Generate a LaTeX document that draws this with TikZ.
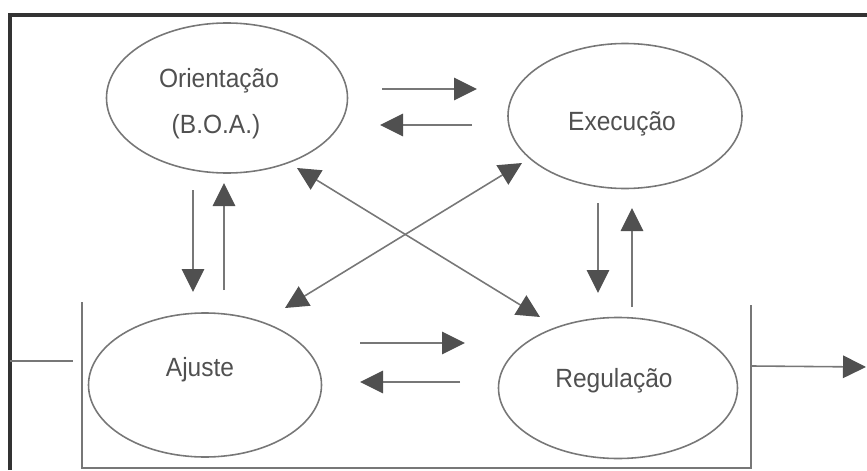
\documentclass[tikz,border=0pt]{standalone}
\usepackage{fontspec}
\setmainfont{Liberation Sans}
\usetikzlibrary{shapes.geometric}
\usetikzlibrary{arrows.meta}
\definecolor{linha}{HTML}{777777}
\definecolor{ponta}{HTML}{505050}
\definecolor{texto}{HTML}{505050}
\tikzset{
    etapa/.style = {ellipse, draw=linha, line width=0.9pt, inner sep=0pt},
    rotulo/.style = {anchor=base, inner sep=0pt, text=texto, xscale=0.93, font=\fontsize{15}{18}\selectfont},
    seta/.style = {-{Triangle[length=0.46cm,width=0.45cm,color=ponta]}, line width=0.9pt, draw=linha},
    setad/.style = {{Triangle[length=0.46cm,width=0.45cm,color=ponta]}-{Triangle[length=0.46cm,width=0.45cm,color=ponta]}, line width=0.9pt, draw=linha},
    moldura/.style = {line width=1.8pt, draw=black!80},
    caixa/.style = {line width=0.9pt, draw=linha}
}

\begin{document}
\begin{tikzpicture}
\useasboundingbox (0,0) rectangle (17.34,9.4);
% frame
\draw[moldura] (0.2,0) -- (0.2,9.1) -- (17.34,9.1);
\draw[caixa] (1.64,3.36) -- (1.64,0.04) -- (15.02,0.04) -- (15.02,3.3);
% stages
\node[etapa, minimum width=4.82cm, minimum height=3.0cm] at (4.54,7.44) (orient) {};
\node[etapa, minimum width=4.68cm, minimum height=2.9cm] at (12.5,7.08) (exec) {};
\node[etapa, minimum width=4.66cm, minimum height=2.88cm] at (4.1,1.7) (ajuste) {};
\node[etapa, minimum width=4.78cm, minimum height=2.82cm] at (12.36,1.64) (regul) {};
\node[rotulo] at (4.38,7.64) (orient-a) {Orientação};
\node[rotulo] at (4.32,6.74) (orient-b) {(B.O.A.)};
\node[rotulo] at (12.44,6.8) (exec-t) {Execução};
\node[rotulo] at (4.0,1.88) (ajuste-t) {Ajuste};
\node[rotulo] at (12.28,1.66) (regul-t) {Regulação};
% arrow ends
\coordinate (oe1) at (7.64,7.62);
\coordinate (oe2) at (9.54,7.62);
\coordinate (eo1) at (9.44,6.9);
\coordinate (eo2) at (7.6,6.9);
\coordinate (oa1) at (3.86,5.6);
\coordinate (oa2) at (3.86,3.56);
\coordinate (ao1) at (4.48,3.6);
\coordinate (ao2) at (4.48,5.74);
\coordinate (or1) at (5.94,6.04);
\coordinate (or2) at (10.8,3.06);
\coordinate (ea1) at (10.44,6.14);
\coordinate (ea2) at (5.7,3.24);
\coordinate (er1) at (11.96,5.34);
\coordinate (er2) at (11.96,3.54);
\coordinate (re1) at (12.64,3.26);
\coordinate (re2) at (12.64,5.24);
\coordinate (ar1) at (7.2,2.54);
\coordinate (ar2) at (9.3,2.54);
\coordinate (ra1) at (9.2,1.76);
\coordinate (ra2) at (7.2,1.76);
\coordinate (entra1) at (0.2,2.18);
\coordinate (entra2) at (1.46,2.18);
\coordinate (sai1) at (15.04,2.08);
\coordinate (sai2) at (17.32,2.06);
% connectors
\draw[seta] (oe1) -- (oe2);
\draw[seta] (eo1) -- (eo2);
\draw[seta] (oa1) -- (oa2);
\draw[seta] (ao1) -- (ao2);
\draw[seta] (er1) -- (er2);
\draw[seta] (re1) -- (re2);
\draw[seta] (ar1) -- (ar2);
\draw[seta] (ra1) -- (ra2);
\draw[setad] (or1) -- (or2);
\draw[setad] (ea1) -- (ea2);
\draw[caixa] (entra1) -- (entra2);
\draw[seta] (sai1) -- (sai2);
\end{tikzpicture}
\end{document}
